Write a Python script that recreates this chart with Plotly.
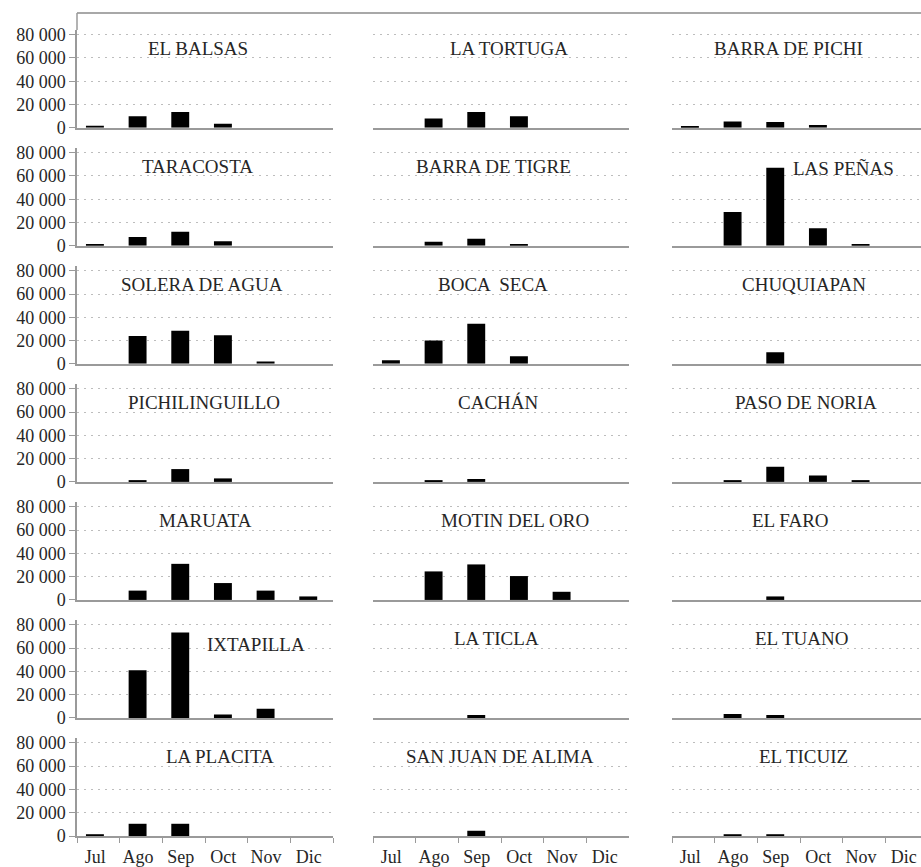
import plotly.graph_objects as go
from plotly.subplots import make_subplots

# Months of the season
meses = ["Jul", "Ago", "Sep", "Oct", "Nov", "Dic"]

# Monthly counts per beach
el_balsas = [1800, 10000, 13500, 3500, 0, 0]
la_tortuga = [0, 8000, 13500, 10000, 0, 0]
barra_de_pichi = [900, 5500, 5000, 2500, 0, 0]
taracosta = [1000, 7500, 12000, 4000, 0, 0]
barra_de_tigre = [0, 3500, 6000, 1000, 0, 0]
las_penas = [0, 29000, 67000, 15000, 1000, 0]
solera_de_agua = [0, 24000, 28500, 24500, 2000, 0]
boca_seca = [3000, 20000, 34500, 6500, 0, 0]
chuquiapan = [0, 0, 10000, 0, 0, 0]
pichilinguillo = [0, 1000, 11000, 3000, 0, 0]
cachan = [0, 900, 2500, 0, 0, 0]
paso_de_noria = [0, 1000, 13000, 5500, 1000, 0]
maruata = [0, 8000, 31000, 14500, 8000, 3000]
motin_del_oro = [0, 24500, 30500, 20500, 7000, 0]
el_faro = [0, 0, 3000, 0, 0, 0]
ixtapilla = [0, 41000, 73500, 3000, 8000, 0]
la_ticla = [0, 0, 2500, 0, 0, 0]
el_tuano = [0, 3500, 2500, 0, 0, 0]
la_placita = [1500, 10500, 10500, 0, 0, 0]
san_juan_de_alima = [0, 0, 4500, 0, 0, 0]
el_ticuiz = [0, 1500, 1500, 0, 0, 0]

# Panels in reading order (row by row, three per row)
paneles = [
    ("EL BALSAS", el_balsas), ("LA TORTUGA", la_tortuga), ("BARRA DE PICHI", barra_de_pichi),
    ("TARACOSTA", taracosta), ("BARRA DE TIGRE", barra_de_tigre), ("LAS PEÑAS", las_penas),
    ("SOLERA DE AGUA", solera_de_agua), ("BOCA  SECA", boca_seca), ("CHUQUIAPAN", chuquiapan),
    ("PICHILINGUILLO", pichilinguillo), ("CACHÁN", cachan), ("PASO DE NORIA", paso_de_noria),
    ("MARUATA", maruata), ("MOTIN DEL ORO", motin_del_oro), ("EL FARO", el_faro),
    ("IXTAPILLA", ixtapilla), ("LA TICLA", la_ticla), ("EL TUANO", el_tuano),
    ("LA PLACITA", la_placita), ("SAN JUAN DE ALIMA", san_juan_de_alima), ("EL TICUIZ", el_ticuiz),
]

y_ticks = [0, 20000, 40000, 60000, 80000]
y_ticktext = ["0", "20 000", "40 000", "60 000", "80 000"]

# Title placement inside each panel (fraction of panel width, value on y axis)
titulo_x = [0.473, 0.53, 0.466,
            0.47, 0.47, 0.689,
            0.487, 0.467, 0.53,
            0.496, 0.49, 0.538,
            0.50, 0.555, 0.474,
            0.70, 0.484, 0.522,
            0.56, 0.496, 0.53]
titulo_y = [68000] * 21
titulo_y[15] = 63000
titulo_y[5] = 66500

FONT = "Liberation Serif"
GRID = "#bdbdbd"
AXIS = "#9a9a9a"
TEXT = "#262626"

W, H = 921, 867
ML, MT, MB = 77, 30, 29
plot_w = W - ML
plot_h = H - MT - MB
panel_px = 256
unit_px = panel_px / 6.0

# Column placement in pixels
col_start = [77, 373, 672]
col_end = [333, 629, 921]

fig = make_subplots(rows=7, cols=3, vertical_spacing=20.3 / plot_h, horizontal_spacing=0.04)

for i, (nombre, valores) in enumerate(paneles):
    r = i // 3 + 1
    c = i % 3 + 1
    fig.add_trace(
        go.Bar(x=meses, y=valores, marker=dict(color="black", line=dict(width=0)),
               width=0.42, offset=-0.29, showlegend=False, hoverinfo="x+y"),
        row=r, col=c,
    )
    k = i + 1
    xname = "xaxis" if k == 1 else f"xaxis{k}"
    yname = "yaxis" if k == 1 else f"yaxis{k}"
    dom = [(col_start[c - 1] - ML) / plot_w, (col_end[c - 1] - ML) / plot_w]
    x_hi = -0.5 + (col_end[c - 1] - col_start[c - 1]) / unit_px
    bottom = r == 7
    fig.layout[xname].update(
        domain=dom, type="category", range=[-0.5, x_hi],
        showline=True, linecolor=AXIS, linewidth=1.5,
        showgrid=False, zeroline=False,
        ticks="outside" if bottom else "", ticklen=5, tickcolor=AXIS,
        tickson="boundaries",
        showticklabels=bottom,
        ticklabelshift=-3, ticklabelstandoff=4,
        tickfont=dict(family=FONT, size=18, color=TEXT),
        fixedrange=True,
    )
    first_col = c == 1
    fig.layout[yname].update(
        range=[0, 84000], tickvals=y_ticks, ticktext=y_ticktext,
        showgrid=True, gridcolor=GRID, gridwidth=1, griddash="2px,5px",
        zeroline=False,
        showline=first_col, linecolor=AXIS, linewidth=1.5,
        ticks="outside" if first_col else "", ticklen=6, tickcolor=AXIS,
        showticklabels=first_col,
        tickfont=dict(family=FONT, size=18, color=TEXT),
        fixedrange=True,
    )
    xref = "x domain" if k == 1 else f"x{k} domain"
    yref = "y" if k == 1 else f"y{k}"
    fig.add_annotation(
        x=titulo_x[i], y=titulo_y[i], xref=xref, yref=yref,
        text=nombre, showarrow=False, xanchor="center", yanchor="middle",
        font=dict(family=FONT, size=19, color=TEXT),
    )

# Frame line along the top and the stub joining it to the first y axis
top_y = (H - MB - 13) / plot_h
fig.add_shape(type="line", xref="paper", yref="paper", x0=0, x1=1, y0=top_y, y1=top_y,
              line=dict(color="#a8a8a8", width=2))
fig.add_shape(type="line", xref="paper", yref="paper", x0=0, x1=0, y0=1.0, y1=top_y,
              line=dict(color=AXIS, width=1.5))

fig.update_layout(
    width=W, height=H,
    margin=dict(l=ML, r=0, t=MT, b=MB, pad=0),
    plot_bgcolor="white", paper_bgcolor="white",
    font=dict(family=FONT, color=TEXT),
)

fig.write_html("out.html")
